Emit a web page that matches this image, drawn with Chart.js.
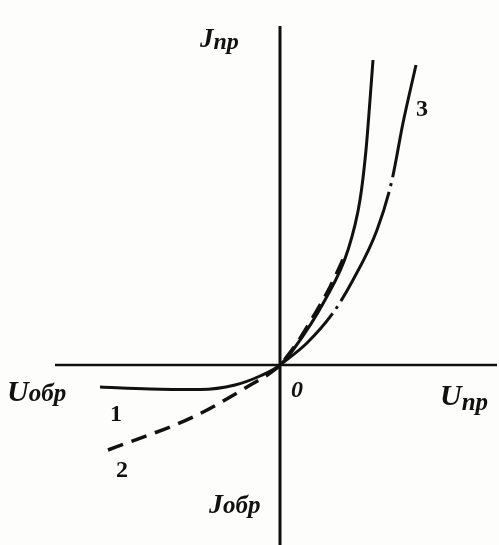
<!DOCTYPE html>
<html>
<head>
<meta charset="utf-8">
<script src="https://cdn.jsdelivr.net/npm/chart.js@4/dist/chart.umd.min.js"></script>
<style>
    html, body { margin: 0; padding: 0; background: #fdfdfb; }
    canvas { display: block; }
</style>
</head>
<body>
<canvas id="vac_chart" width="499" height="545"></canvas>
<script>
// diode current-voltage curves, arbitrary units (U along x, I along y)
const curve1 = [
    {x: -18.0, y: -2.2}, {x: -13.0, y: -2.4}, {x: -8.0, y: -2.45}, {x: -4.5, y: -2.0},
    {x: -2.0, y: -1.1}, {x: 0, y: 0}, {x: 1.3, y: 1.5}, {x: 4.5, y: 6.5},
    {x: 6.8, y: 11.5}, {x: 8.0, y: 16.5}, {x: 8.6, y: 21.5}, {x: 9.0, y: 26.5}, {x: 9.3, y: 30.5}
];
const curve2 = [
    {x: -17.2, y: -8.5}, {x: -8.7, y: -5.2}, {x: -3.3, y: -2.2}, {x: -0.3, y: -0.3},
    {x: 0, y: 0}, {x: 1.7, y: 2.2}, {x: 3.3, y: 4.8}, {x: 5.0, y: 7.8}, {x: 6.5, y: 11.0}
];
const curve3 = [
    {x: 0, y: 0}, {x: 2.7, y: 2.2}, {x: 5.3, y: 5.2}, {x: 7.3, y: 8.5},
    {x: 9.7, y: 13.5}, {x: 11.2, y: 18.5}, {x: 12.3, y: 24.2}, {x: 13.6, y: 30.0}
];
const axisU = [{x: -22.5, y: 0}, {x: 21.7, y: 0}];
const axisI = [{x: 0, y: 33.9}, {x: 0, y: -18}];
const curveNames = ['1', '2', '3'];

const ink = '#111';

const labelsPlugin = {
    id: 'labels',
    afterDraw(chart) {
        const c = chart.ctx;
        const sx = chart.scales.x, sy = chart.scales.y;
        const X = v => sx.getPixelForValue(v);
        const Y = v => sy.getPixelForValue(v);
        const f = px => 'italic bold ' + px + 'px "Liberation Serif"';
        c.save();
        c.fillStyle = ink;
        c.textBaseline = 'alphabetic';
        const word = (x, y, main, tail, s1, s2, dy) => {
            c.font = f(s1);
            c.fillText(main, x, y);
            const w = c.measureText(main).width;
            c.font = f(s2);
            c.fillText(tail, x + w, y + dy);
        };
        // axis captions
        word(X(-8.0), Y(31.8), 'J', 'пр', 27, 24, 2);
        word(X(-27.3), Y(-3.6), 'U', 'обр', 30, 25, 0);
        word(X(16.0), Y(-4.0), 'U', 'пр', 30, 25, 5);
        word(X(-7.1), Y(-14.8), 'J', 'обр', 28, 25, 0);
        c.font = f(24);
        c.fillText('0', X(1.1), Y(-3.2));
        // curve numbers
        c.font = 'bold 24px "Liberation Serif"';
        c.fillText(curveNames[0], X(-17.0), Y(-5.6));
        c.fillText(curveNames[1], X(-16.4), Y(-11.2));
        c.fillText(curveNames[2], X(13.6), Y(24.9));
        c.restore();
    }
};

const line = (data, extra) => Object.assign({
    data: data,
    showLine: true,
    pointRadius: 0,
    borderColor: ink,
    borderWidth: 3,
    cubicInterpolationMode: 'monotone',
    fill: false
}, extra);

new Chart(document.getElementById('vac_chart').getContext('2d'), {
    type: 'scatter',
    data: {
        datasets: [
            line(axisU, {borderWidth: 2.5}),
            line(axisI, {borderWidth: 3}),
            line(curve1, {label: curveNames[0]}),
            line(curve2, {label: curveNames[1], borderDash: [16, 9], borderWidth: 3.5}),
            line(curve3, {label: curveNames[2], borderDash: [120, 6, 3, 6], borderDashOffset: 46})
        ]
    },
    options: {
        responsive: false,
        animation: false,
        layout: {padding: 0},
        plugins: {legend: {display: false}, tooltip: {enabled: false}},
        scales: {
            x: {type: 'linear', min: -28, max: 21.9, display: false},
            y: {type: 'linear', min: -18, max: 36.5, display: false}
        }
    },
    plugins: [labelsPlugin]
});
</script>
</body>
</html>
